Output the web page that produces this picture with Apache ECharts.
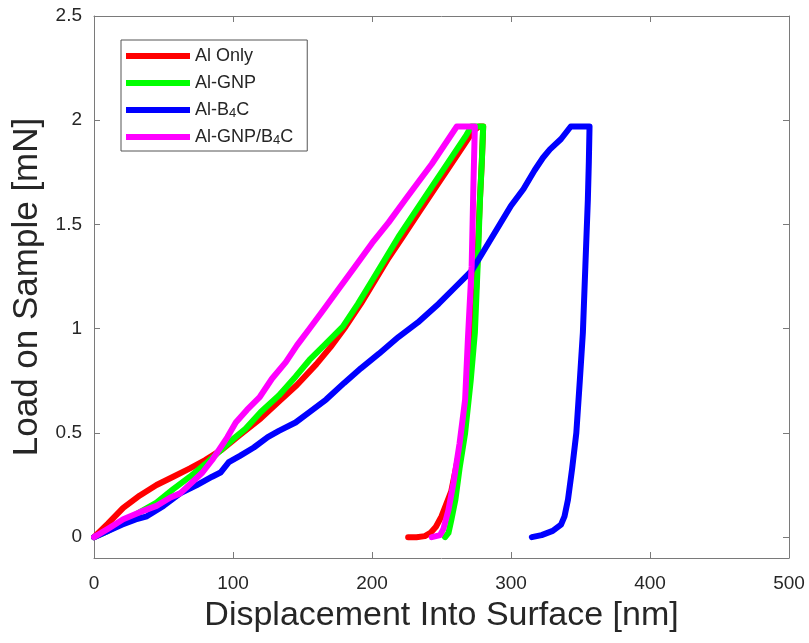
<!DOCTYPE html>
<html>
<head>
<meta charset="utf-8">
<script src="https://cdn.jsdelivr.net/npm/echarts@6/dist/echarts.min.js"></script>
<style>html,body{margin:0;padding:0;background:#fff;}#c{width:809px;height:643px;}</style>
</head>
<body>
<div id="c"></div>
<script>
const seriesNames = ['Al Only', 'Al-GNP', 'Al-B4C', 'Al-GNP/B4C'];
const xTicks = [0, 100, 200, 300, 400, 500];
const yTicks = [0, 0.5, 1, 1.5, 2, 2.5];

const alOnly = [[0,0],[10,0.065],[21,0.14],[33,0.2],[45,0.25],[57,0.29],[69,0.33],[80,0.37],[92,0.42],[105,0.49],[120,0.57],[133,0.65],[146,0.73],[160,0.83],[170,0.91],[181,1.01],[192,1.12],[202,1.23],[212,1.34],[222,1.44],[234,1.56],[246,1.68],[256,1.78],[265,1.87],[273,1.95],[277,1.97],[280,1.97],[279,1.8],[277.5,1.6],[275,1.2],[271,0.8],[264,0.45],[257,0.22],[250,0.1],[246,0.05],[242,0.02],[238,0.005],[232,0],[226,0]];
const alGnp = [[0,0],[10,0.03],[21,0.07],[33,0.12],[45,0.166],[57,0.23],[69,0.29],[80,0.35],[90,0.41],[100,0.47],[109,0.52],[120,0.6],[133,0.68],[145,0.77],[155,0.85],[167,0.93],[179,1.01],[190,1.12],[200,1.23],[210,1.34],[219,1.44],[231,1.56],[243,1.68],[253,1.78],[262,1.87],[268,1.93],[271.5,1.97],[280,1.97],[279,1.8],[277.7,1.62],[276,1.3],[274,0.98],[271,0.75],[267,0.5],[263,0.33],[260,0.18],[257,0.08],[255,0.02],[252.6,0]];
const alB4c = [[0,0],[10,0.03],[20,0.06],[30,0.085],[38,0.1],[50,0.15],[62,0.21],[74,0.25],[85,0.29],[91,0.31],[97,0.36],[105,0.39],[115,0.43],[125,0.48],[133,0.51],[145,0.55],[155,0.6],[167,0.66],[180,0.74],[192,0.81],[205,0.88],[219,0.96],[233,1.03],[248,1.12],[260,1.2],[272,1.28],[281,1.38],[291,1.49],[300,1.59],[309,1.67],[317,1.76],[323,1.82],[328,1.86],[336,1.91],[343,1.97],[356.5,1.97],[356,1.8],[355.3,1.62],[353.5,1.3],[351.7,0.98],[349.5,0.75],[347,0.5],[344,0.33],[341,0.18],[338.5,0.1],[336,0.06],[330,0.03],[322,0.01],[315,0]];
const alGnpB4c = [[0,0],[10,0.04],[21,0.086],[33,0.12],[45,0.15],[55,0.19],[62,0.21],[70,0.26],[78,0.31],[85,0.37],[90,0.42],[96,0.48],[102,0.55],[110,0.61],[119,0.67],[128,0.76],[138,0.84],[146,0.92],[155,1.0],[165,1.09],[176,1.19],[188,1.3],[200,1.41],[212,1.51],[224,1.62],[234,1.71],[243,1.79],[252,1.88],[261,1.97],[274,1.97],[273,1.7],[271.7,1.3],[269,0.95],[267,0.66],[263,0.45],[258.6,0.26],[255,0.13],[251.4,0.04],[249,0.01],[243,0]];

const colors = ['#ff0000', '#00ff00', '#0000ff', '#ff00ff'];
const datasets = [alOnly, alGnp, alB4c, alGnpB4c];

const axisColor = '#7a7a7a';
const labelColor = '#262626';
const font = 'Liberation Sans, Arial, sans-serif';

const chart = echarts.init(document.getElementById('c'));
chart.setOption({
  animation: false,
  backgroundColor: '#ffffff',
  grid: { left: 94, right: 20, top: 16, bottom: 85, containLabel: false },
  legend: {
    orient: 'vertical',
    left: 121, top: 40,
    padding: [6, 14, 4, 5],
    itemWidth: 64, itemHeight: 6,
    itemGap: 7,
    itemStyle: { borderWidth: 0 },
    icon: 'rect',
    borderColor: '#555',
    borderWidth: 1,
    backgroundColor: '#fff',
    textStyle: {
      fontFamily: font, fontSize: 18, color: labelColor, lineHeight: 20,
      rich: {
        a: { fontFamily: font, fontSize: 18, color: labelColor, lineHeight: 20 },
        s: { fontFamily: font, fontSize: 13, color: labelColor, lineHeight: 12, verticalAlign: 'bottom' }
      }
    },
    formatter: function (n) {
      if (n === 'Al-B4C') return '{a|Al-B}{s|4}{a|C}';
      if (n === 'Al-GNP/B4C') return '{a|Al-GNP/B}{s|4}{a|C}';
      return '{a|' + n + '}';
    },
    data: seriesNames
  },
  xAxis: [{
    type: 'value', min: 0, max: 500, interval: 100,
    name: 'Displacement Into Surface [nm]', nameLocation: 'middle', nameGap: 41,
    nameTextStyle: { fontFamily: font, fontSize: 34, color: labelColor },
    axisLine: { show: true, onZero: false, lineStyle: { color: axisColor, width: 1 } },
    axisTick: { show: true, inside: true, length: 6, lineStyle: { color: axisColor } },
    axisLabel: { fontFamily: font, fontSize: 19, color: labelColor, margin: 16 },
    splitLine: { show: false }
  }, {
    type: 'value', min: 0, max: 500, interval: 100, position: 'top',
    axisLine: { show: true, onZero: false, lineStyle: { color: axisColor, width: 1 } },
    axisTick: { show: true, inside: true, length: 6, lineStyle: { color: axisColor } },
    axisLabel: { show: false }, splitLine: { show: false }
  }],
  yAxis: [{
    type: 'value', min: -0.1, max: 2.5,
    name: 'Load on Sample [mN]', nameLocation: 'middle', nameGap: 49,
    nameTextStyle: { fontFamily: font, fontSize: 35, color: labelColor },
    axisLine: { show: true, onZero: false, lineStyle: { color: axisColor, width: 1 } },
    axisTick: { show: true, inside: true, length: 6, customValues: yTicks, lineStyle: { color: axisColor } },
    axisLabel: { fontFamily: font, fontSize: 19, color: labelColor, margin: 12, customValues: yTicks, showMinLabel: true, showMaxLabel: true },
    splitLine: { show: false }
  }, {
    type: 'value', min: -0.1, max: 2.5, position: 'right',
    axisLine: { show: true, onZero: false, lineStyle: { color: axisColor, width: 1 } },
    axisTick: { show: true, inside: true, length: 6, customValues: yTicks, lineStyle: { color: axisColor } },
    axisLabel: { show: false }, splitLine: { show: false }
  }],
  series: seriesNames.map((n, i) => ({
    name: n, type: 'line', xAxisIndex: 0, yAxisIndex: 0,
    data: datasets[i], showSymbol: false, symbol: 'none', smooth: false,
    lineStyle: { color: colors[i], width: 6, join: 'round', cap: 'round' },
    itemStyle: { color: colors[i] },
    z: 2 + i
  }))
});
</script>
</body>
</html>
